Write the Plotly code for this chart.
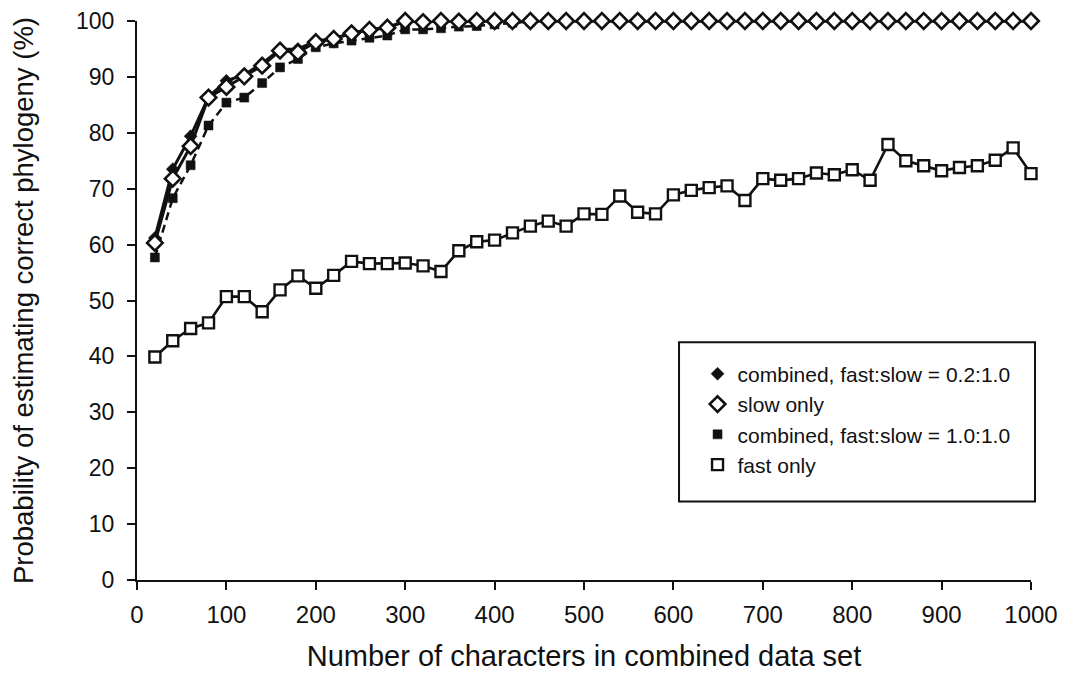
import plotly.graph_objects as go

# Number of characters in combined data set
n_chars = [20, 40, 60, 80, 100, 120, 140, 160, 180, 200,
           220, 240, 260, 280, 300, 320, 340, 360, 380, 400,
           420, 440, 460, 480, 500, 520, 540, 560, 580, 600,
           620, 640, 660, 680, 700, 720, 740, 760, 780, 800,
           820, 840, 860, 880, 900, 920, 940, 960, 980, 1000]

combined_02 = [61.2, 73.5, 79.4, 86.4, 89.3, 90.4, 92.4, 94.9, 95.0, 96.4,
               96.9, 97.8, 98.5, 98.8, 100, 100, 100, 100, 100, 100,
               100, 100, 100, 100, 100, 100, 100, 100, 100, 100,
               100, 100, 100, 100, 100, 100, 100, 100, 100, 100,
               100, 100, 100, 100, 100, 100, 100, 100, 100, 100]

slow_only = [60.3, 71.8, 77.6, 86.3, 88.2, 90.1, 92.0, 94.7, 94.4, 96.2,
             96.8, 97.8, 98.4, 98.8, 100, 99.8, 100, 99.9, 100, 100,
             100, 100, 100, 100, 100, 100, 100, 100, 100, 100,
             100, 100, 100, 100, 100, 100, 100, 100, 100, 100,
             100, 100, 100, 100, 100, 100, 100, 100, 100, 100]

combined_10 = [57.7, 68.3, 74.2, 81.3, 85.4, 86.3, 88.9, 91.7, 93.2, 95.3,
               96.0, 96.5, 97.0, 97.4, 98.5, 98.5, 98.7, 99.0, 99.1, 99.4,
               99.7, 99.9, 100, 100, 100, 100, 100, 100, 100, 100,
               100, 100, 100, 100, 100, 100, 100, 100, 100, 100,
               100, 100, 100, 100, 100, 100, 100, 100, 100, 100]

fast_only = [39.9, 42.8, 45.0, 46.0, 50.7, 50.7, 48.0, 51.9, 54.4, 52.2,
             54.5, 57.0, 56.6, 56.6, 56.7, 56.2, 55.2, 58.9, 60.5, 60.8,
             62.1, 63.3, 64.2, 63.3, 65.5, 65.4, 68.7, 65.8, 65.5, 68.9,
             69.7, 70.2, 70.5, 67.9, 71.8, 71.5, 71.8, 72.8, 72.5, 73.4,
             71.5, 77.9, 75.0, 74.1, 73.2, 73.8, 74.1, 75.1, 77.3, 72.7]

x_ticks = [0, 100, 200, 300, 400, 500, 600, 700, 800, 900, 1000]
y_ticks = [0, 10, 20, 30, 40, 50, 60, 70, 80, 90, 100]

FONT = "Liberation Sans, Arial, Helvetica, sans-serif"
BLACK = "#111111"

# (name, values, symbol, fill, size, outline width, dash, line width, legend rank)
series = [
    ("combined, fast:slow = 1.0:1.0", combined_10, "square", BLACK, 9, 0.5, "8px,5px", 2.5, 3),
    ("combined, fast:slow = 0.2:1.0", combined_02, "diamond", BLACK, 10, 0.5, "solid", 3, 1),
    ("slow only", slow_only, "diamond", "white", 12, 2.6, "solid", 3, 2),
    ("fast only", fast_only, "square", "white", 11, 2.4, "solid", 2.6, 4),
]

fig = go.Figure()
for i, (name, ys, sym, fill, size, lw, dash, linew, rank) in enumerate(series):
    fig.add_trace(go.Scatter(
        x=n_chars, y=ys, mode="lines", showlegend=False,
        line=dict(color=BLACK, width=linew, dash=dash),
        hoverinfo="skip", cliponaxis=False))
    fig.add_trace(go.Scatter(
        x=n_chars, y=ys, mode="markers", name=name, legendgroup=f"g{i}",
        legendrank=rank,
        marker=dict(symbol=sym, size=size, color=fill,
                    line=dict(color=BLACK, width=lw)),
        cliponaxis=False))

fig.update_layout(
    width=1060, height=679,
    margin=dict(l=129, r=37, t=13, b=107, autoexpand=False),
    paper_bgcolor="white", plot_bgcolor="white",
    font=dict(family=FONT, color=BLACK),
    showlegend=True,
    legend=dict(
        x=0.627, y=0.405, xanchor="left", yanchor="top",
        bgcolor="rgba(0,0,0,0)", borderwidth=0,
        font=dict(size=21, family=FONT, color=BLACK),
        tracegroupgap=0, itemwidth=30,
    ),
    xaxis=dict(
        range=[0, 1000], tickvals=x_ticks, ticktext=[str(v) for v in x_ticks],
        showgrid=False, zeroline=False, showline=True, linecolor=BLACK, linewidth=2,
        ticks="outside", ticklen=8, tickwidth=2, tickcolor=BLACK, automargin=False,
        ticklabelstandoff=4, ticklabeloverflow="allow",
        tickfont=dict(size=24, family=FONT, color=BLACK),
        title=dict(text="Number of characters in combined data set",
                   font=dict(size=29, family=FONT, color=BLACK), standoff=19),
    ),
    xaxis2=dict(
        range=[0, 1000], overlaying="x", anchor="y", side="bottom", automargin=False,
        tickvals=x_ticks, showticklabels=False, showgrid=False, zeroline=False,
        ticks="inside", ticklen=8, tickwidth=2, tickcolor=BLACK, showline=False,
    ),
    yaxis=dict(
        range=[0, 100], tickvals=y_ticks, ticktext=[str(v) for v in y_ticks],
        showgrid=False, zeroline=False, showline=True, linecolor=BLACK, linewidth=2,
        ticks="outside", ticklen=8, tickwidth=2, tickcolor=BLACK, automargin=False,
        ticklabelstandoff=8, ticklabeloverflow="allow",
        tickfont=dict(size=23, family=FONT, color=BLACK),
        title=dict(text="Probability of estimating correct phylogeny (%)",
                   font=dict(size=27.5, family=FONT, color=BLACK), standoff=40),
    ),
    yaxis2=dict(
        range=[0, 100], overlaying="y", anchor="x", side="left", automargin=False,
        tickvals=y_ticks, showticklabels=False, showgrid=False, zeroline=False,
        ticks="inside", ticklen=8, tickwidth=2, tickcolor=BLACK, showline=False,
    ),
    shapes=[dict(type="rect", xref="paper", yref="paper",
                 x0=0.6063, x1=1.0045, y0=0.1406, y1=0.4253,
                 line=dict(color=BLACK, width=2), fillcolor="rgba(0,0,0,0)", layer="below")],
)

fig.write_html("out.html")
